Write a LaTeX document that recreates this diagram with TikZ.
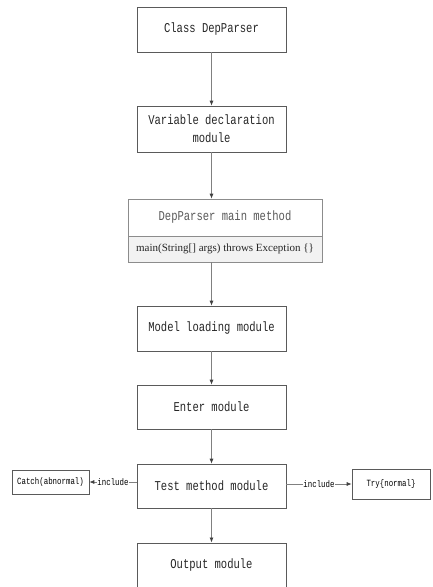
\documentclass[tikz,border=0pt]{standalone}
\usepackage{fontspec}
\newfontfamily\boxfont[FakeStretch=0.78]{Liberation Mono}
\newfontfamily\argfont{Liberation Serif}
\usetikzlibrary{arrows.meta,positioning}
\definecolor{edgegray}{HTML}{5A5A5A}
\definecolor{linegray}{HTML}{808080}
\definecolor{argfill}{HTML}{F2F2F2}
\tikzset{
    module/.style={draw=edgegray, line width=0.6pt, minimum width=149pt, minimum height=45pt,
        inner sep=0pt, align=center, text=black!85, font=\boxfont\fontsize{13.5}{18}\selectfont},
    sidebox/.style={draw=edgegray, line width=0.6pt, inner sep=0pt,
        font=\boxfont\fontsize{9.5}{11}\selectfont},
    flow/.style={draw=linegray, line width=0.7pt, -{Latex[length=5pt,width=4pt,color=black!75]}},
    tag/.style={fill=white, inner sep=0.5pt, font=\boxfont\fontsize{9.5}{11}\selectfont}
}
\begin{document}
\begin{tikzpicture}[x=1pt, y=-1pt]
        \useasboundingbox (0, 0) rectangle (433, 587);

        % main column
        \node[module] (cls) at (211.5, 29.5) {Class DepParser};
        \node[module, minimum height=46pt] (var) at (211.5, 129) {Variable declaration\\module};

        \node[module, draw=black!45, text=black!65, minimum width=194pt, minimum height=37pt] (mainhead) at (225, 217.5) {DepParser main method};
        \node[module, draw=black!45, minimum width=194pt, minimum height=26pt, fill=argfill,
            font=\argfont\fontsize{11}{12}\selectfont] (mainargs) at (225, 249) {main(String[] args) throws Exception \{\}};

        \node[module] (model) at (211.5, 328.5) {Model loading module};
        \node[module, minimum height=44pt] (enter) at (211.5, 407) {Enter module};
        \node[module, minimum height=44pt] (test) at (211.5, 486) {Test method module};
        \node[module, minimum height=44pt] (output) at (211.5, 564.8) {Output module};

        % side boxes
        \node[sidebox, minimum width=77pt, minimum height=24pt] (catch) at (50.5, 482) {Catch(abnormal)};
        \node[sidebox, minimum width=78pt, minimum height=30pt] (try) at (391, 484) {Try\{normal\}};

        \draw[flow] (cls) -- (var);
        \draw[flow] (var.south) -- (var.south |- mainhead.north);
        \draw[flow] (model.north |- mainargs.south) -- (model.north);
        \draw[flow] (model) -- (enter);
        \draw[flow] (enter) -- (test);
        \draw[flow] (test) -- (output);

        \draw[flow] (catch.east -| test.west) -- (catch.east) node[midway, tag] {include};
        \draw[flow] (test.east |- try.west) -- (try.west) node[midway, tag] {include};

    \end{tikzpicture}
\end{document}
